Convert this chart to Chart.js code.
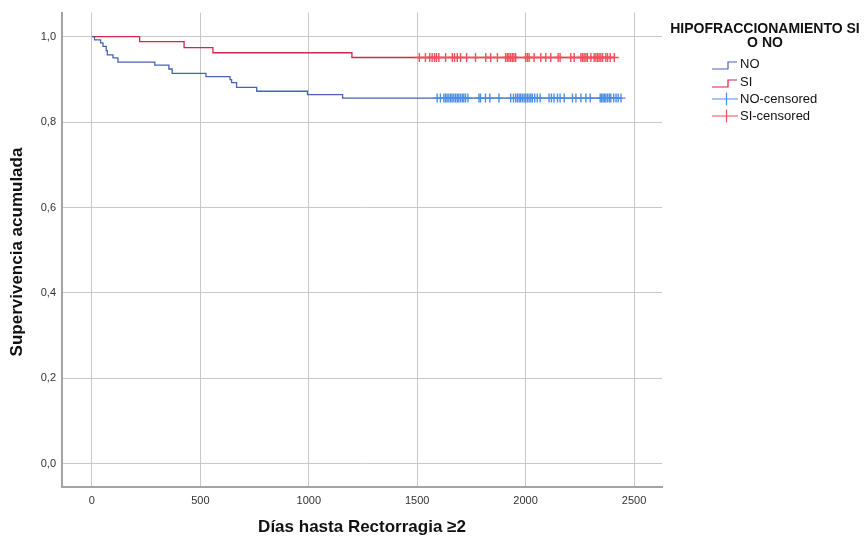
<!DOCTYPE html>
<html>
<head>
<meta charset="utf-8">
<script src="https://cdn.jsdelivr.net/npm/chart.js@4.4.1/dist/chart.umd.min.js"></script>
<style>
html,body{margin:0;padding:0;background:#fff;}
#wrap{width:867px;height:536px;}
</style>
</head>
<body>
<div id="wrap"><canvas id="c" width="867" height="536"></canvas></div>
<script>
// ---- Data ----
const noTimes = [0, 12, 40, 51, 66, 71, 97, 120, 290, 355, 370, 526, 637, 644, 667, 760, 994, 1156, 2440];
const noSurv  = [1.0, 0.992, 0.985, 0.977, 0.967, 0.957, 0.950, 0.940, 0.933, 0.924, 0.914, 0.906, 0.899, 0.892, 0.881, 0.872, 0.864, 0.856, 0.856];
const siTimes = [0, 220, 425, 558, 1199, 2409];
const siSurv  = [1.0, 0.988, 0.974, 0.962, 0.951, 0.951];
const noCensoredTimes = [1592,1607,1623,1631,1638,1646,1654,1661,1669,1677,1685,1692,1700,1708,1715,1723,1734,1785,1792,1815,1835,1877,1931,1944,1954,1962,1970,1977,1985,1993,2000,2008,2016,2024,2031,2042,2054,2067,2108,2119,2131,2147,2159,2178,2216,2232,2255,2278,2298,2344,2350,2357,2363,2370,2378,2386,2393,2406,2417,2427,2440];
const noCensoredSurv = 0.856;
const siCensoredTimes = [1510,1538,1558,1569,1580,1589,1600,1631,1662,1672,1685,1700,1728,1769,1816,1839,1870,1908,1916,1923,1931,1939,1946,1954,2000,2008,2016,2039,2070,2093,2116,2150,2159,2208,2224,2255,2263,2270,2278,2285,2301,2316,2324,2332,2339,2347,2355,2370,2378,2390,2409];
const siCensoredSurv = 0.951;
const xTicks = [0, 500, 1000, 1500, 2000, 2500];
const yTicks = [0, 0.2, 0.4, 0.6, 0.8, 1.0];
const legendTitle = ["HIPOFRACCIONAMIENTO SI", "O NO"];
const legendLabels = ["NO", "SI", "NO-censored", "SI-censored"];
const xTitle = "Días hasta Rectorragia ≥2";
const yTitle = "Supervivencia acumulada";

const C_NO = '#4862b3', C_SI = '#d8234a', C_NOC = '#4b8fe4', C_SIC = '#f0505a';
const FONT = '"Liberation Sans", Arial, sans-serif';

const toPts = (t, v) => t.map((x, i) => ({x: x, y: v[i]}));

const overlay = {
  id: 'overlay',
  afterDraw(chart) {
    const ctx = chart.ctx;
    ctx.save();
    ctx.fillStyle = '#111';
    // axis titles
    ctx.font = 'bold 17px ' + FONT;
    ctx.textAlign = 'center';
    ctx.textBaseline = 'middle';
    ctx.fillText(xTitle, 362, 527);
    ctx.save();
    ctx.translate(17, 252);
    ctx.rotate(-Math.PI / 2);
    ctx.fillText(yTitle, 0, 0);
    ctx.restore();
    // legend title
    ctx.font = 'bold 14px ' + FONT;
    ctx.fillText(legendTitle[0], 765, 29);
    ctx.fillText(legendTitle[1], 765, 43);
    // legend items
    ctx.font = '13px ' + FONT;
    ctx.textAlign = 'left';
    const ys = [64, 82, 99, 116];
    const cols = [C_NO, C_SI, C_NOC, C_SIC];
    ys.forEach((y, i) => {
      ctx.strokeStyle = cols[i];
      ctx.lineWidth = 1.2;
      ctx.beginPath();
      if (i < 2) {
        ctx.moveTo(712, y + 5); ctx.lineTo(728, y + 5); ctx.lineTo(728, y - 2); ctx.lineTo(737, y - 2);
      } else {
        ctx.moveTo(712, y); ctx.lineTo(738, y);
        ctx.moveTo(726.5, y - 6.5); ctx.lineTo(726.5, y + 6.5);
      }
      ctx.stroke();
      ctx.fillStyle = '#111';
      ctx.fillText(legendLabels[i], 740, y);
    });
    ctx.restore();
  }
};

new Chart(document.getElementById('c'), {
  type: 'scatter',
  data: {
    datasets: [
      {label: 'NO-censored', data: noCensoredTimes.map(t => ({x: t, y: noCensoredSurv})), pointStyle: 'cross', pointRadius: 4.5, pointBorderWidth: 1.4, borderColor: C_NOC, backgroundColor: C_NOC, showLine: false, order: 0},
      {label: 'SI-censored', data: siCensoredTimes.map(t => ({x: t, y: siCensoredSurv})), pointStyle: 'cross', pointRadius: 4.5, pointBorderWidth: 1.4, borderColor: C_SIC, backgroundColor: C_SIC, showLine: false, order: 0},
      {label: 'NO', data: toPts(noTimes, noSurv), showLine: true, stepped: true, borderColor: C_NO, borderWidth: 1.3, pointRadius: 0, order: 1},
      {label: 'SI', data: toPts(siTimes, siSurv), showLine: true, stepped: true, borderColor: C_SI, borderWidth: 1.3, pointRadius: 0, order: 1}
    ]
  },
  options: {
    responsive: false,
    animation: false,
    devicePixelRatio: 1,
    layout: {padding: {top: 12, right: 205, left: 0, bottom: 0}},
    plugins: {legend: {display: false}, tooltip: {enabled: false}, title: {display: false}},
    scales: {
      x: {
        type: 'linear', min: -138, max: 2629,
        afterBuildTicks: s => { s.ticks = xTicks.map(v => ({value: v})); },
        afterFit: s => { s.height = 49; },
        grid: {color: '#c8c8c8', lineWidth: 1, drawTicks: false},
        border: {display: true, color: '#a3a3a3', width: 2},
        ticks: {font: {size: 11, family: FONT}, color: '#333', padding: 7, callback: v => String(v)}
      },
      y: {
        type: 'linear', min: -0.054, max: 1.056,
        afterBuildTicks: s => { s.ticks = yTicks.map(v => ({value: v})); },
        afterFit: s => { s.width = 62; },
        grid: {color: '#c8c8c8', lineWidth: 1, drawTicks: false},
        border: {display: true, color: '#a3a3a3', width: 2},
        ticks: {font: {size: 11, family: FONT}, color: '#333', padding: 6, callback: v => v.toFixed(1).replace('.', ',')}
      }
    }
  },
  plugins: [overlay]
});
</script>
</body>
</html>
